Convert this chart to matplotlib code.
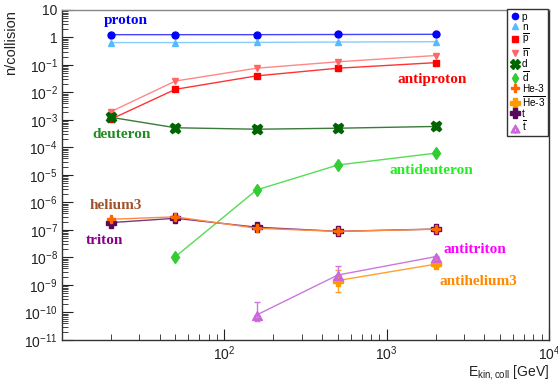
import matplotlib
matplotlib.use("Agg")
import matplotlib.pyplot as plt
from matplotlib.lines import Line2D
from matplotlib.path import Path
from matplotlib.ticker import FixedLocator, FixedFormatter, NullFormatter
import numpy as np

plt.rcParams['font.family'] = ['Liberation Sans', 'DejaVu Sans']
plt.rcParams['mathtext.fontset'] = 'custom'
plt.rcParams['mathtext.rm'] = 'Liberation Sans'
plt.rcParams['mathtext.it'] = 'Liberation Sans:italic'

# collision energies [GeV]
energy = [20, 50, 158, 500, 2000]

proton = [1.26, 1.26, 1.26, 1.28, 1.30]
neutron = [0.65, 0.65, 0.66, 0.68, 0.70]
antiproton = [1.06e-3, 0.013, 0.040, 0.076, 0.121]
antineutron = [2.0e-3, 0.026, 0.076, 0.13, 0.22]
deuteron = [1.25e-3, 5.2e-4, 4.6e-4, 5.0e-4, 5.8e-4]
antideuteron_e = [50, 158, 500, 2000]
antideuteron = [1.07e-8, 2.85e-6, 2.3e-5, 6.2e-5]
helium3 = [2.45e-7, 3.0e-7, 1.15e-7, 8.9e-8, 1.06e-7]
triton = [1.85e-7, 2.66e-7, 1.26e-7, 8.9e-8, 1.08e-7]
antitriton_e = [158, 500, 2000]
antitriton = [8.1e-11, 2.3e-9, 1.07e-8]
antitriton_lo = [3.0e-11, 0.8e-9, 0.1e-8]
antitriton_hi = [1.5e-10, 2.4e-9, 0.1e-8]
antihelium3_e = [500, 2000]
antihelium3 = [1.45e-9, 5.7e-9]
antihelium3_lo = [0.9e-9, 1.2e-9]
antihelium3_hi = [2.0e-9, 1.2e-9]

legend_labels = ['p', 'n', r'$\overline{\mathrm{p}}$', r'$\overline{\mathrm{n}}$', 'd', r'$\overline{\mathrm{d}}$',
                 'He-3', r'$\overline{\mathrm{He}\text{-}3}$', 't', r'$\overline{\mathrm{t}}$']

# three stacked triangles for the antitriton marker
tri = []
codes = []
for cx, cy in [(-0.5, -0.55), (0.5, -0.55), (0.0, 0.35)]:
    tri += [(cx - 0.5, cy - 0.45), (cx + 0.5, cy - 0.45), (cx, cy + 0.45), (cx - 0.5, cy - 0.45)]
    codes += [Path.MOVETO, Path.LINETO, Path.LINETO, Path.CLOSEPOLY]
tri_marker = Path(tri, codes)

# marker style per species, in legend order
styles = [
    dict(marker='o', ms=5, color='#0000ff'),
    dict(marker='^', ms=5, color='#55bbff'),
    dict(marker='s', ms=5, color='#ff0000'),
    dict(marker='v', ms=5, color='#ff6666'),
    dict(marker='X', ms=7.5, color='#006400'),
    dict(marker='d', ms=6, color='#33cc33'),
    dict(marker='P', ms=6, color='#ff6600'),
    dict(marker='P', ms=7.5, color='#ff9900'),
    dict(marker='P', ms=7.5, color='#5a0a5a'),
    dict(marker=tri_marker, ms=7, color='#cc66dd'),
]
line_colors = ['#4444ff', '#88ccff', '#ff3333', '#ff8888', '#3a7a3a', '#55dd55',
               '#ff8844', '#ffa030', '#7a3a7a', '#cc77dd']


def mk(i):
    st = styles[i]
    return dict(marker=st['marker'], ms=st['ms'], mfc=st['color'], mec=st['color'], color=line_colors[i], lw=1)


fig = plt.figure(figsize=(5.58, 3.82), dpi=100)
ax = fig.add_axes([0.111, 0.110, 0.873, 0.864])

ax.plot(energy, proton, **mk(0))
ax.plot(energy, neutron, **mk(1))
ax.plot(energy, antiproton, **mk(2))
ax.plot(energy, antineutron, **mk(3))
ax.plot(energy, deuteron, **mk(4))
ax.plot(antideuteron_e, antideuteron, **mk(5))
ax.plot(energy, triton, zorder=3, **mk(8))
ax.plot(energy, helium3, zorder=4, **mk(6))
ax.errorbar(antihelium3_e, antihelium3, yerr=[antihelium3_lo, antihelium3_hi], capsize=2, elinewidth=1, **mk(7))
ax.errorbar(antitriton_e, antitriton, yerr=[antitriton_lo, antitriton_hi], capsize=2, elinewidth=1, **mk(9))

ax.set_xscale('log')
ax.set_yscale('log')
ax.set_xlim(10, 1e4)
ax.set_ylim(1e-11, 10)

ydec = np.arange(-11, 2)
ax.yaxis.set_major_locator(FixedLocator(10.0 ** ydec))
ylabels = []
for k in ydec:
    if k == 1:
        ylabels.append('10')
    elif k == 0:
        ylabels.append('1')
    else:
        ylabels.append(r'10$^{%d}$' % k)
ax.yaxis.set_major_formatter(FixedFormatter(ylabels))
yminor = [m * 10.0 ** k for k in range(-11, 1) for m in range(2, 10)]
ax.yaxis.set_minor_locator(FixedLocator(yminor))
ax.yaxis.set_minor_formatter(NullFormatter())

ax.xaxis.set_major_locator(FixedLocator([100, 1000, 10000]))
ax.xaxis.set_major_formatter(FixedFormatter([r'10$^{2}$', r'10$^{3}$', r'10$^{4}$']))
xminor = [m * 10.0 ** k for k in range(1, 4) for m in range(2, 10)]
ax.xaxis.set_minor_locator(FixedLocator(xminor))
ax.xaxis.set_minor_formatter(NullFormatter())

ax.tick_params(which='both', direction='in', top=False, right=False, labelsize=10, colors='#222222')
ax.tick_params(which='major', length=8, pad=3)
ax.tick_params(which='minor', length=4)
for s in ax.spines.values():
    s.set_color('#333333')
    s.set_linewidth(1)
ax.spines['top'].set_color('#888888')

ax.set_xlabel(r'E$_{\mathrm{kin,coll}}$ [GeV]', fontsize=10, loc='right', color='#222222', labelpad=0)
ax.set_ylabel('n/collision', fontsize=10.5, loc='top', color='#222222')

# curve names written next to their lines
serif = dict(family='Liberation Serif', fontsize=11, fontweight='bold', va='center', ha='left')
ax.text(18.1, 4.0, 'proton', color='#0000ff', **serif)
ax.text(15.3, 2.85e-4, 'deuteron', color='#228b22', **serif)
ax.text(1167, 0.0285, 'antiproton', color='#ff0000', **serif)
ax.text(1042, 1.5e-5, 'antideuteron', color='#22ee22', **serif)
ax.text(14.7, 7.7e-7, 'helium3', color='#a0522d', **serif)
ax.text(14.0, 4.3e-8, 'triton', color='#880088', **serif)
ax.text(2240, 2.0e-8, 'antitriton', color='#ff00ff', **serif)
ax.text(2113, 1.3e-9, 'antihelium3', color='#ff8800', **serif)

# marker-only legend entries
handles = [Line2D([], [], ls='none', marker=st['marker'], ms=st['ms'] * 0.9,
                  mfc=st['color'], mec=st['color']) for st in styles]
leg = fig.legend(handles, legend_labels, loc='upper right', bbox_to_anchor=(548 / 558, 1 - 9 / 382),
                 borderaxespad=0, fontsize=7.2, fancybox=False, edgecolor='#333333', framealpha=1,
                 handlelength=1.0, handletextpad=0.2, labelspacing=0.0, borderpad=0.25)
leg.get_frame().set_linewidth(1)

fig.savefig('out.png', dpi=100)
